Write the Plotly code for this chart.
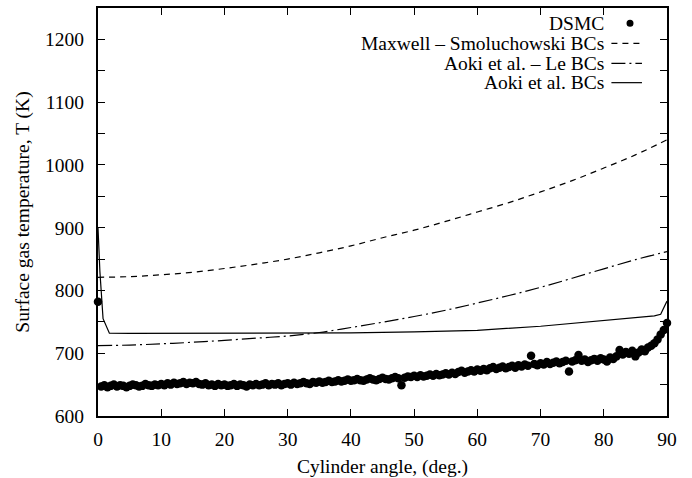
import numpy as np
import plotly.graph_objects as go

# DSMC surface gas temperature, sampled every 0.5 deg from 0 to 90
dsmc_angle = [i * 0.5 for i in range(181)]
dsmc_temp = [
    782, 647, 649, 646, 648, 650, 647, 649, 648, 646,
    648, 650, 649, 647, 648, 651, 649, 648, 650, 649,
    651, 649, 652, 650, 653, 651, 652, 654, 651, 653,
    652, 654, 651, 650, 652, 649, 650, 648, 651, 649,
    650, 648, 649, 651, 648, 650, 649, 647, 650, 649,
    651, 649, 650, 652, 649, 651, 650, 652, 649, 651,
    652, 650, 653, 651, 652, 654, 652, 651, 654, 653,
    655, 653, 654, 656, 654, 655, 657, 655, 656, 658,
    656, 657, 659, 657, 656, 658, 660, 658, 657, 659,
    661, 659, 658, 660, 662, 660, 649, 661, 663, 662,
    664, 662, 665, 663, 664, 666, 664, 667, 665, 666,
    668, 666, 669, 667, 670, 672, 669, 671, 673, 671,
    674, 672, 675, 673, 676, 678, 675, 677, 679, 676,
    678, 680, 677, 681, 679, 682, 680, 696, 683, 681,
    684, 682, 686, 683, 685, 687, 684, 686, 688, 671,
    687, 689, 697, 688, 690, 686, 689, 691, 688, 692,
    690, 687, 693, 691, 695, 705, 698, 702, 699, 704,
    695, 701, 706, 703, 709, 712, 716, 722, 730, 737,
    748,
]

# Model curves (angle in deg, temperature in K)
bc_angle = [0, 5, 10, 15, 20, 25, 30, 35, 40, 45, 50, 55, 60, 65, 70, 75, 80, 85, 90]
maxwell_temp = [821, 822, 825, 829, 835, 842, 850, 860, 871, 884, 896, 910,
                925, 940, 957, 975, 995, 1016, 1040]
aoki_le_temp = [712, 713, 715, 717.5, 720.5, 724, 727.5, 733, 741, 749.5, 758.5,
                768.5, 780, 792, 805, 819.5, 834.5, 849, 862]

aoki_angle = [0, 0.3, 0.8, 1.8, 5, 10, 20, 30, 40, 50, 60, 70, 80, 85, 88, 89, 90]
aoki_temp = [900, 830, 755, 732, 731.5, 731.5, 731.5, 732, 732.5, 734, 736.5,
             743, 751.5, 756, 759.5, 762, 783]

legend_labels = ["DSMC", "Maxwell \u2013 Smoluchowski BCs",
                 "Aoki et al. \u2013 Le BCs", "Aoki et al. BCs"]

FONT = "'Liberation Serif', 'Times New Roman', Times, serif"
FSIZE = 19.5
DASH = "6px,5px"
DASHDOT = "14px,4px,2px,4px"

fig = go.Figure()

fig.add_trace(go.Scatter(
    x=bc_angle, y=maxwell_temp, mode="lines", line_shape="spline",
    line=dict(color="black", width=1.2, dash=DASH), showlegend=False))
fig.add_trace(go.Scatter(
    x=bc_angle, y=aoki_le_temp, mode="lines", line_shape="spline",
    line=dict(color="black", width=1.2, dash=DASHDOT), showlegend=False))
fig.add_trace(go.Scatter(
    x=aoki_angle, y=aoki_temp, mode="lines",
    line=dict(color="black", width=1.2), showlegend=False))
fig.add_trace(go.Scatter(
    x=dsmc_angle, y=dsmc_temp, mode="markers", cliponaxis=False,
    marker=dict(color="black", size=8.5), showlegend=False))

# Legend: right-aligned labels with line/marker samples to their right
rows_y = [0.9625, 0.9135, 0.8645, 0.817]
text_x = 0.893
samp_x0, samp_x1, dot_x = 0.9023, 0.956, 0.935
for label, ry in zip(legend_labels, rows_y):
    fig.add_annotation(x=text_x, y=ry, xref="paper", yref="paper",
                       text=label, showarrow=False, xanchor="right",
                       yanchor="middle", font=dict(family=FONT, size=FSIZE, color="black"))
fig.add_shape(type="circle", xref="paper", yref="paper",
              xsizemode="pixel", ysizemode="pixel",
              xanchor=dot_x, yanchor=rows_y[0], x0=-3.5, x1=3.5, y0=-3.5, y1=3.5,
              fillcolor="black", line=dict(color="black", width=0))
for ry, dash in zip(rows_y[1:], [DASH, DASHDOT, "solid"]):
    fig.add_shape(type="line", xref="paper", yref="paper",
                  x0=samp_x0, x1=samp_x1, y0=ry, y1=ry,
                  line=dict(color="black", width=1.2, dash=dash))

axis_common = dict(
    showline=True, linecolor="black", linewidth=2, mirror="ticks",
    ticks="inside", ticklen=7, tickwidth=1.2, tickcolor="black",
    showgrid=False, zeroline=False, automargin=False,
    tickfont=dict(family=FONT, size=FSIZE, color="black"),
)

fig.update_xaxes(
    range=[0, 90], tickvals=list(range(0, 91, 10)),
    title=dict(text="Cylinder angle, (deg.)", standoff=12,
               font=dict(family=FONT, size=FSIZE, color="black")),
    ticklabelstandoff=5,
    **axis_common)
fig.update_yaxes(
    range=[600, 1250], tickvals=list(range(600, 1201, 100)),
    minor=dict(tickvals=list(range(650, 1251, 100)), ticks="inside",
               ticklen=7, tickwidth=1.2, tickcolor="black"),
    title=dict(text="Surface gas temperature, T (K)", standoff=10,
               font=dict(family=FONT, size=FSIZE, color="black")),
    ticklabelstandoff=8,
    **axis_common)

fig.update_layout(
    width=692, height=478,
    margin=dict(l=98, r=25, t=8, b=62),
    paper_bgcolor="white", plot_bgcolor="white",
    font=dict(family=FONT, size=FSIZE, color="black"),
)

fig.write_html("out.html")
